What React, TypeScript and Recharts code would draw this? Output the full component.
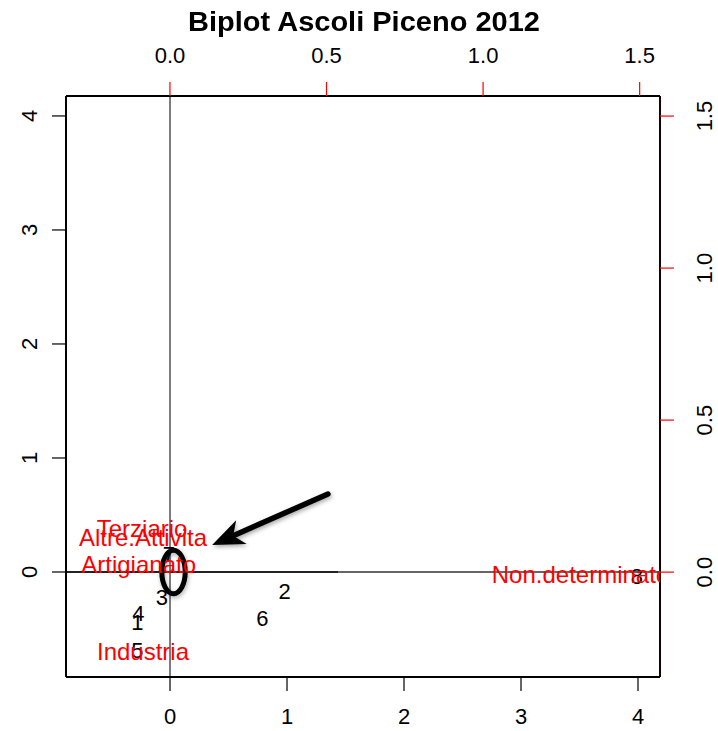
import { ReferenceArea, ReferenceLine, Scatter, ScatterChart, XAxis, YAxis } from 'recharts'

// observations (bottom / left axes)
const pointLabels = ['1', '2', '3', '4', '5', '6', '7', '8']
const pointX = [-0.28, 0.98, -0.07, -0.27, -0.28, 0.79, -0.01, 3.99]
const pointY = [-0.44, -0.17, -0.22, -0.36, -0.69, -0.41, 0.15, -0.04]

// variables (top / right axes)
const varLabels = ['Artigianato', 'Industria', 'Terziario', 'Altre.Attivita', 'Non.determinato']
const varX = [-0.1, -0.086, -0.089, -0.086, 1.311]
const varY = [0.026, -0.26, 0.145, 0.115, -0.007]

const bottomTicks = [0, 1, 2, 3, 4]
const leftTicks = [0, 1, 2, 3, 4]
const topTicks = [0, 0.5, 1, 1.5]
const rightTicks = [0, 0.5, 1, 1.5]

// hand-drawn annotations
const arrowStart = { x: 1.35, y: 0.684 }
const arrowEnd = { x: 0.36, y: 0.237 }
const ringX = [-0.07, 0.13]
const ringY = [-0.19, 0.19]

const points = pointLabels.map((label, i) => ({ label, x: pointX[i], y: pointY[i] }))
const variables = varLabels.map((label, i) => ({ label, x: varX[i], y: varY[i] }))

const FONT = '"Liberation Sans", Arial, Helvetica, sans-serif'

function makeTick(digits: number, rotate: boolean) {
  return (p: any) => {
    const { x, y, payload } = p
    return (
      <text
        x={x}
        y={y}
        textAnchor="middle"
        dominantBaseline="central"
        fontSize={22}
        fontFamily={FONT}
        fill="#000"
        transform={rotate ? `rotate(-90 ${x} ${y})` : undefined}
      >
        {Number(payload.value).toFixed(digits)}
      </text>
    )
  }
}

const PointText = (p: any) => (
  <text x={p.cx} y={p.cy} textAnchor="middle" dominantBaseline="central" fontSize={22} fontFamily={FONT} fill="#000">
    {p.payload.label}
  </text>
)

const VarText = (p: any) => (
  <text x={p.cx} y={p.cy} textAnchor="middle" dominantBaseline="central" fontSize={24} fontFamily={FONT} fill="#ff0000">
    {p.payload.label}
  </text>
)

const BigArrow = (p: any) => {
  const { x1, y1, x2, y2 } = p
  const a = Math.atan2(y2 - y1, x2 - x1)
  const L = 32
  const W = 13
  const bx = x2 - L * Math.cos(a)
  const by = y2 - L * Math.sin(a)
  const nx = x2 - (L - 9) * Math.cos(a)
  const ny = y2 - (L - 9) * Math.sin(a)
  const px = -Math.sin(a) * W
  const py = Math.cos(a) * W
  return (
    <g style={{ filter: 'drop-shadow(1px 2px 2px rgba(0,0,0,0.35))' }}>
      <line x1={x1} y1={y1} x2={nx} y2={ny} stroke="#000" strokeWidth={5.5} strokeLinecap="round" />
      <polygon points={`${x2},${y2} ${bx + px},${by + py} ${nx},${ny} ${bx - px},${by - py}`} fill="#000" />
    </g>
  )
}

const Ring = (p: any) => (
  <ellipse
    cx={p.x + p.width / 2}
    cy={p.y + p.height / 2}
    rx={p.width / 2}
    ry={p.height / 2}
    fill="none"
    stroke="#000"
    strokeWidth={5}
    style={{ filter: 'drop-shadow(1px 2px 2px rgba(0,0,0,0.3))' }}
  />
)

export default function App() {
  return (
    <div style={{ position: 'absolute', left: 0, top: 0, width: 718, height: 731, background: '#fff' }}>
      <div
        style={{
          position: 'absolute',
          left: 0,
          top: 9,
          width: 728,
          textAlign: 'center',
          fontFamily: FONT,
          fontWeight: 'bold',
          fontSize: 29,
          lineHeight: '29px',
          transform: 'scaleY(0.93)',
          transformOrigin: 'top',
        }}
      >
        Biplot Ascoli Piceno 2012
      </div>
      <ScatterChart width={718} height={731} margin={{ top: 56, right: 8, bottom: 14, left: 16 }}>
        <XAxis
          xAxisId="b"
          type="number"
          dataKey="x"
          orientation="bottom"
          domain={[-0.889, 4.188]}
          ticks={bottomTicks}
          allowDataOverflow
          height={40}
          tickSize={14}
          tickMargin={25}
          tick={makeTick(0, false)}
          axisLine={{ stroke: '#000', strokeWidth: 2 }}
          tickLine={{ stroke: '#000', strokeWidth: 1.2 }}
        />
        <XAxis
          xAxisId="t"
          type="number"
          dataKey="x"
          orientation="top"
          domain={[-0.332, 1.565]}
          ticks={topTicks}
          allowDataOverflow
          height={40}
          tickSize={14}
          tickMargin={27}
          tick={makeTick(1, false)}
          axisLine={{ stroke: '#000', strokeWidth: 2 }}
          tickLine={{ stroke: '#ff0000', strokeWidth: 1.2 }}
        />
        <YAxis
          yAxisId="l"
          type="number"
          dataKey="y"
          orientation="left"
          domain={[-0.921, 4.175]}
          ticks={leftTicks}
          allowDataOverflow
          width={50}
          tickSize={14}
          tickMargin={22}
          tick={makeTick(0, true)}
          axisLine={{ stroke: '#000', strokeWidth: 2 }}
          tickLine={{ stroke: '#000', strokeWidth: 1.2 }}
        />
        <YAxis
          yAxisId="r"
          type="number"
          dataKey="y"
          orientation="right"
          domain={[-0.345, 1.566]}
          ticks={rightTicks}
          allowDataOverflow
          width={50}
          tickSize={14}
          tickMargin={31}
          tick={makeTick(1, true)}
          axisLine={{ stroke: '#1a0000', strokeWidth: 2 }}
          tickLine={{ stroke: '#ff0000', strokeWidth: 1.2 }}
        />
        <ReferenceLine xAxisId="b" yAxisId="l" x={0} stroke="#111" strokeWidth={1.1} />
        <ReferenceLine
          xAxisId="b"
          yAxisId="l"
          segment={[{ x: -0.889, y: 0 }, { x: 1.44, y: 0 }]}
          stroke="#222"
          strokeWidth={2}
        />
        <ReferenceLine
          xAxisId="b"
          yAxisId="l"
          segment={[{ x: 1.44, y: 0 }, { x: 4.188, y: 0 }]}
          stroke="#333"
          strokeWidth={1.4}
        />
        <Scatter
          data={points}
          xAxisId="b"
          yAxisId="l"
          shape={PointText}
          isAnimationActive={false}
        />
        <Scatter
          data={variables}
          xAxisId="t"
          yAxisId="r"
          shape={VarText}
          isAnimationActive={false}
        />
        <ReferenceArea
          xAxisId="b"
          yAxisId="l"
          x1={ringX[0]}
          x2={ringX[1]}
          y1={ringY[0]}
          y2={ringY[1]}
          shape={Ring}
        />
        <ReferenceLine xAxisId="b" yAxisId="l" segment={[arrowStart, arrowEnd]} shape={BigArrow} />
      </ScatterChart>
    </div>
  )
}
